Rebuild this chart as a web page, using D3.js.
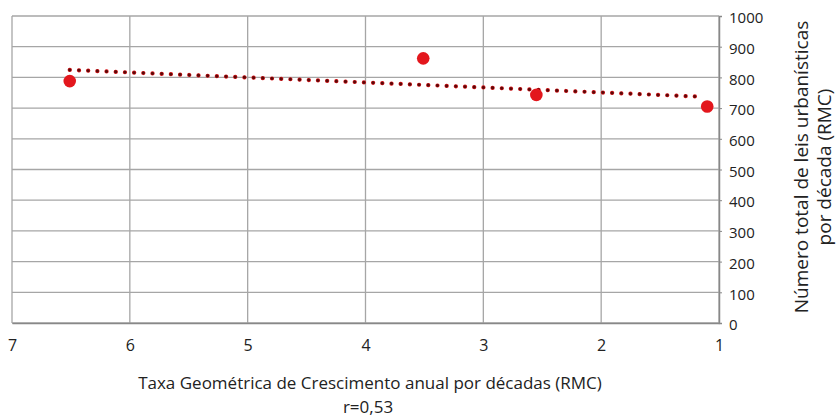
<!doctype html>
<html>
<head>
<meta charset="utf-8"/>
<title>Leis urbanísticas x Taxa de crescimento</title>
<script src="https://d3js.org/d3.v7.min.js"></script>
<style>
  body { margin: 0; background: #fff; }
  svg text { font-family: "Open Sans", "Noto Sans", sans-serif; fill: #222; }
</style>
</head>
<body>
<div id="grafico"></div>
<script>
// dados
var taxa = [6.51, 3.51, 2.55, 1.1];      // eixo x
var leis = [788, 862, 743, 705];         // eixo y
var xTicks = [7, 6, 5, 4, 3, 2, 1];
var yTicks = [0, 100, 200, 300, 400, 500, 600, 700, 800, 900, 1000];
var tituloX = "Taxa Geométrica de Crescimento anual por décadas (RMC)";
var subtituloX = "r=0,53";
var tituloY = ["Número total de leis urbanísticas", "por década (RMC)"];

var largura = 838, altura = 419;
var esq = 12, dir = 719, topo = 16, base = 323;

var svg = d3.select("#grafico")
    .append("svg")
    .attr("width", largura)
    .attr("height", altura);

var x = d3.scaleLinear().domain([7, 1]).range([esq, dir]);
var y = d3.scaleLinear().domain([0, 1000]).range([base, topo]);

// grade
svg.append("g").selectAll("line").data(yTicks).enter().append("line")
    .attr("x1", esq).attr("x2", dir)
    .attr("y1", d => y(d)).attr("y2", d => y(d))
    .attr("stroke", "#a6a6a6").attr("stroke-width", 1.3);
svg.append("g").selectAll("line").data(xTicks).enter().append("line")
    .attr("x1", d => x(d)).attr("x2", d => x(d))
    .attr("y1", topo).attr("y2", base)
    .attr("stroke", "#a6a6a6").attr("stroke-width", 1.3);

// eixo y a direita
var eixoY = d3.axisRight(y).tickValues(yTicks).tickFormat(d3.format("d")).tickSize(3).tickPadding(7);
var gy = svg.append("g").attr("transform", "translate(" + dir + ",0)").call(eixoY);
gy.select(".domain").attr("stroke", "#888").attr("stroke-width", 1.5);
gy.selectAll(".tick line").attr("stroke", "#888");
gy.selectAll("text").style("font-size", "15px").attr("dy", "0.45em")
    .style("font-family", "'Open Sans', sans-serif");

// eixo x
var eixoX = d3.axisBottom(x).tickValues(xTicks).tickFormat(d3.format("d")).tickSize(0).tickPadding(17);
var gx = svg.append("g").attr("transform", "translate(0," + base + ")").call(eixoX);
gx.select(".domain").attr("stroke", "#888").attr("stroke-width", 1.5);
gx.selectAll("text").style("font-size", "16px")
    .style("font-family", "'Open Sans', sans-serif");

// linha de tendencia (regressao linear)
var mx = d3.mean(taxa), my = d3.mean(leis);
var sxy = d3.sum(taxa, (v, i) => (v - mx) * (leis[i] - my));
var sxx = d3.sum(taxa, v => (v - mx) * (v - mx));
var a = sxy / sxx, b = my - a * mx;
var x0 = d3.max(taxa), x1 = d3.min(taxa) + 0.05;
var tend = [[x0, a * x0 + b + 3], [x1, a * x1 + b - 3]];

var linha = d3.line().x(d => x(d[0])).y(d => y(d[1]));
svg.append("path").datum(tend).attr("d", linha)
    .attr("fill", "none").attr("stroke", "#d8181c")
    .attr("stroke-width", 4.2).attr("stroke-linecap", "round")
    .attr("stroke-dasharray", "0.1 9.1");
svg.append("path").datum(tend).attr("d", linha)
    .attr("fill", "none").attr("stroke", "#5a0808")
    .attr("stroke-width", 3).attr("stroke-linecap", "round")
    .attr("stroke-dasharray", "0.1 9.1");

// pontos
svg.append("g").selectAll("circle").data(taxa).enter().append("circle")
    .attr("cx", d => x(d))
    .attr("cy", (d, i) => y(leis[i]))
    .attr("r", 6.3)
    .attr("fill", "#e3171d");

// titulos
svg.append("text").attr("x", 370).attr("y", 389)
    .attr("text-anchor", "middle").style("font-size", "17px").text(tituloX);
svg.append("text").attr("x", 368).attr("y", 413)
    .attr("text-anchor", "middle").style("font-size", "17px").text(subtituloX);

var ty = svg.append("text").attr("transform", "translate(808,167) rotate(-90)")
    .attr("text-anchor", "middle").style("font-size", "19px");
ty.append("tspan").attr("x", 0).attr("dy", 0).text(tituloY[0]);
ty.append("tspan").attr("x", 0).attr("dy", "1.22em").text(tituloY[1]);
</script>
</body>
</html>
